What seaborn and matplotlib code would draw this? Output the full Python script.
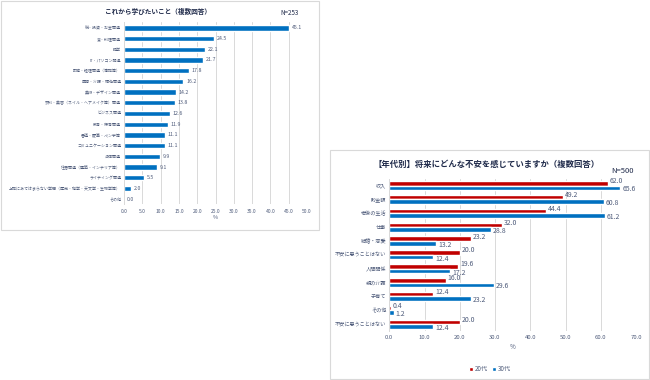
import numpy as np
import pandas as pd
import seaborn as sns
import matplotlib.pyplot as plt
from matplotlib.patches import Rectangle

# --- data ---
learn_labels = [
    "税・投資・お金関連", "食・料理関連", "語学", "IT・パソコン関連",
    "財務・経理関連（簿記等）", "医療・介護・福祉関連", "美術・デザイン関連",
    "衣料・美容（ネイル・ヘアメイク等）関連", "ビジネス関連", "教育・保育関連",
    "書道・硬筆・ペン字等", "コミュニケーション関連", "法律関連",
    "住居関連（建築・インテリア等）", "ライティング関連",
    "上記にあてはまらない学問（歴史・地学・天文学・生物学等）", "その他",
]
learn_values = [45.1, 24.5, 22.1, 21.7, 17.8, 16.2, 14.2, 13.8, 12.6, 11.9,
                11.1, 11.1, 9.9, 9.1, 5.5, 2.0, 0.0]

worry_labels = ["収入", "貯金額", "老後の生活", "仕事", "結婚・恋愛",
                "不安に思うことはない", "人間関係", "親の介護", "子育て",
                "その他", "不安に思うことはない"]
worry_20s = [62.0, 49.2, 44.4, 32.0, 23.2, 20.0, 19.6, 16.0, 12.4, 0.4, 20.0]
worry_30s = [65.6, 60.8, 61.2, 28.8, 13.2, 12.4, 17.2, 29.6, 23.2, 1.2, 12.4]
ages = ["20代", "30代"]

BLUE = "#0070C0"
RED = "#C00000"
TXT = "#4E5B7A"
TITLE = "#1F2A4A"
GRID = "#D9D9D9"

sns.set_theme(style="white")
plt.rcParams['font.family'] = ['Noto Sans CJK JP', 'DejaVu Sans']

fig = plt.figure(figsize=(6.5, 3.8), dpi=100)

# panel frames
fig.patches.append(Rectangle((1 / 650, 1 - 230 / 380), 318 / 650, 229 / 380,
                             transform=fig.transFigure, fill=False,
                             edgecolor=GRID, lw=0.8))
fig.patches.append(Rectangle((330 / 650, 1 / 380), 319 / 650, 229 / 380,
                             transform=fig.transFigure, fill=False,
                             edgecolor=GRID, lw=0.8))


def style_axis(ax, xmax, step, tick_fs, ylab_fs):
    ax.set_xlim(0, xmax)
    ticks = np.arange(0, xmax + 0.01, step)
    ax.set_xticks(ticks)
    ax.set_xticklabels([f"{t:.1f}" for t in ticks], fontsize=tick_fs, color=TXT)
    ax.tick_params(axis='y', labelsize=ylab_fs, labelcolor=TXT, length=0, pad=2)
    ax.tick_params(axis='x', length=0, pad=3)
    ax.grid(axis='x', color=GRID, lw=0.7)
    ax.set_axisbelow(True)
    for s in ['top', 'right', 'bottom']:
        ax.spines[s].set_visible(False)
    ax.spines['left'].set_color(GRID)
    ax.spines['left'].set_linewidth(0.7)
    ax.set_ylabel("")


# --- left chart ---
ax1 = fig.add_axes([124 / 650, 1 - 204.5 / 380, 183 / 650, 182 / 380])
df1 = pd.DataFrame({"item": learn_labels, "value": learn_values})
sns.barplot(data=df1, x="value", y="item", color=BLUE, saturation=1,
            width=0.5, ax=ax1)
style_axis(ax1, 50, 5, 3.6, 2.85)
ax1.set_xlabel("%", fontsize=4, color=TXT, labelpad=1)
for p in ax1.patches:
    ax1.annotate(f"{p.get_width():.1f}",
                 (p.get_width(), p.get_y() + p.get_height() / 2),
                 xytext=(2, 0), textcoords="offset points",
                 va="center", ha="left", fontsize=3.8, color=TXT)
fig.text(158 / 650, 1 - 11 / 380, "これから学びたいこと（複数回答）",
         ha="center", va="center", fontsize=4.8, fontweight="bold", color=TITLE)
fig.text(290 / 650, 1 - 13 / 380, "N=253", ha="center", va="center",
         fontsize=4.5, color=TITLE)

# --- right chart ---
ax2 = fig.add_axes([389.3 / 650, 1 - 331 / 380, 246.7 / 650, 152.4 / 380])
keys = [str(i) for i in range(len(worry_labels))]
df2 = pd.DataFrame({
    "key": keys * 2,
    "age": [ages[0]] * len(keys) + [ages[1]] * len(keys),
    "value": worry_20s + worry_30s,
})
sns.barplot(data=df2, x="value", y="key", hue="age",
            palette={ages[0]: RED, ages[1]: BLUE}, saturation=1,
            width=0.66, ax=ax2)
style_axis(ax2, 70, 10, 4.3, 3.7)
ax2.set_yticks(range(len(worry_labels)))
ax2.set_yticklabels(worry_labels)
ax2.set_xlabel("%", fontsize=4.5, color=TXT, labelpad=2)
for cont, dy in zip(ax2.containers, [1.5, -1.2]):
    for p in cont:
        ax2.annotate(f"{p.get_width():.1f}",
                     (p.get_width(), p.get_y() + p.get_height() / 2),
                     xytext=(1.5, dy), textcoords="offset points",
                     va="center", ha="left", fontsize=5, color=TXT)
sns.move_legend(ax2, "center", bbox_to_anchor=(490 / 650, 1 - 369 / 380),
                bbox_transform=fig.transFigure, ncol=2, frameon=False,
                title=None, fontsize=4.5, handlelength=0.6, handleheight=0.6,
                handletextpad=0.3, columnspacing=0.6)
for t in ax2.get_legend().get_texts():
    t.set_color(TXT)
fig.text(487 / 650, 1 - 164 / 380, "【年代別】将来にどんな不安を感じていますか（複数回答）",
         ha="center", va="center", fontsize=6, fontweight="bold", color=TITLE)
fig.text(623 / 650, 1 - 171 / 380, "N=500", ha="center", va="center",
         fontsize=5.5, color=TITLE)

fig.savefig("out.png", dpi=100)
